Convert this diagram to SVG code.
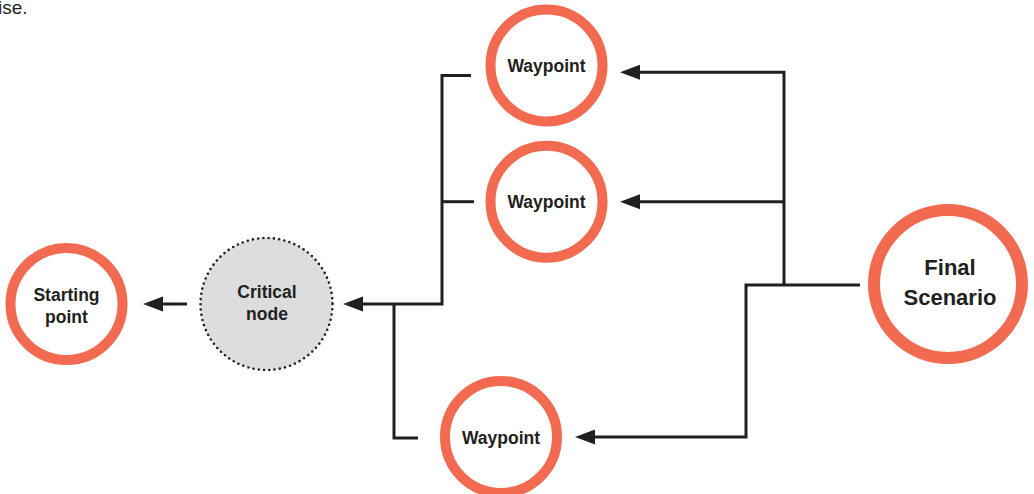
<svg xmlns="http://www.w3.org/2000/svg" width="1034" height="494" viewBox="0 0 1034 494">
<defs>
<style>
.ring{fill:#ffffff;stroke:#f26a4f;stroke-width:10}
.big{stroke-width:12}
.crit{fill:#dcdddf;stroke:#231f20;stroke-width:2.6;stroke-dasharray:0 5.3;stroke-linecap:round}
.lbl{font-family:"Liberation Sans",Arial,Helvetica,sans-serif;font-weight:bold;font-size:17.5px;fill:#231f20;text-anchor:middle}
.lblbig{font-size:22px}
.cap{font-family:"Liberation Sans",Arial,Helvetica,sans-serif;font-size:19px;fill:#231f20}
.wire{fill:none;stroke:#231f20;stroke-width:3}
</style>
<marker id="ah" viewBox="0 0 20 15" refX="0" refY="7.5" markerWidth="20" markerHeight="15" markerUnits="userSpaceOnUse" orient="auto-start-reverse">
<path d="M0,7.5 L20,0 L20,15 Z" fill="#231f20"/>
</marker>
</defs>
<text class="cap" x="-2" y="14">ise.</text>
<g id="connectors">
<path class="wire" d="M187,304 L163,304" />
<path d="M143,304 L163,296.5 L163,311.5 Z" fill="#231f20"/>
<path class="wire" d="M471,75.5 L442,75.5 L442,304 L362,304"/>
<path d="M343,304 L363,296.5 L363,311.5 Z" fill="#231f20"/>
<path class="wire" d="M474,201.7 L442,201.7"/>
<path class="wire" d="M394,304 L394,438 L418,438"/>
<path class="wire" d="M860,285 L746,285 L746,437 L594,437"/>
<path d="M575,437 L595,429.5 L595,444.5 Z" fill="#231f20"/>
<path class="wire" d="M784,285 L784,72.3 L639,72.3"/>
<path d="M620,72.3 L640,64.8 L640,79.8 Z" fill="#231f20"/>
<path class="wire" d="M784,201.7 L639,201.7"/>
<path d="M620,201.7 L640,194.2 L640,209.2 Z" fill="#231f20"/>
</g>
<g id="start">
<circle class="ring" cx="66.5" cy="304" r="56"/>
<text class="lbl" x="66.5" y="300.5">Starting</text>
<text class="lbl" x="66.5" y="322.5">point</text>
</g>
<g id="critical">
<circle class="crit" cx="266.5" cy="304" r="66"/>
<text class="lbl" x="267" y="297.5">Critical</text>
<text class="lbl" x="267" y="319.5">node</text>
</g>
<g id="waypoint1">
<circle class="ring" cx="546.5" cy="65.5" r="56"/>
<text class="lbl" x="546.5" y="72">Waypoint</text>
</g>
<g id="waypoint2">
<circle class="ring" cx="546.5" cy="201.7" r="56"/>
<text class="lbl" x="546.5" y="208">Waypoint</text>
</g>
<g id="waypoint3">
<circle class="ring" cx="501" cy="437" r="56"/>
<text class="lbl" x="501" y="443.5">Waypoint</text>
</g>
<g id="final">
<circle class="ring big" cx="948" cy="284" r="74"/>
<text class="lbl lblbig" x="950" y="274.5">Final</text>
<text class="lbl lblbig" x="950" y="304.5">Scenario</text>
</g>
</svg>
